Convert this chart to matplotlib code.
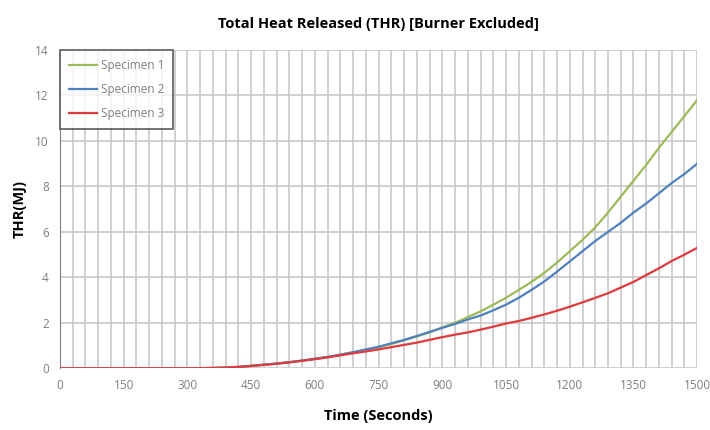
import numpy as np
import matplotlib.pyplot as plt
from matplotlib.ticker import MultipleLocator

# time in seconds, 30 s steps
time = list(range(0, 1530, 30))

# THR (MJ)
spec1 = [0, 0, 0, 0, 0, 0, 0, 0, 0, 0, 0,
         0.005, 0.015, 0.03, 0.06, 0.11, 0.16, 0.21, 0.27, 0.34, 0.42,
         0.5, 0.6, 0.7, 0.81, 0.92, 1.07, 1.23, 1.4, 1.58, 1.8,
         2.0, 2.25, 2.5, 2.8, 3.1, 3.45, 3.8, 4.2, 4.65, 5.15,
         5.65, 6.2, 6.85, 7.55, 8.25, 8.95, 9.7, 10.4, 11.1, 11.8]
spec2 = [0, 0, 0, 0, 0, 0, 0, 0, 0, 0, 0,
         0.005, 0.015, 0.03, 0.06, 0.11, 0.16, 0.21, 0.27, 0.34, 0.42,
         0.5, 0.6, 0.71, 0.83, 0.95, 1.1, 1.25, 1.42, 1.6, 1.78,
         1.95, 2.15, 2.32, 2.55, 2.8, 3.1, 3.45, 3.82, 4.25, 4.7,
         5.15, 5.6, 6.0, 6.4, 6.85, 7.25, 7.7, 8.15, 8.55, 9.0]
spec3 = [0, 0, 0, 0, 0, 0, 0, 0, 0, 0, 0,
         0.005, 0.015, 0.03, 0.06, 0.1, 0.15, 0.2, 0.26, 0.33, 0.4,
         0.48, 0.57, 0.66, 0.74, 0.83, 0.93, 1.03, 1.13, 1.25, 1.37,
         1.48, 1.58, 1.7, 1.83, 1.97, 2.08, 2.22, 2.37, 2.53, 2.71,
         2.9, 3.1, 3.3, 3.55, 3.8, 4.1, 4.4, 4.72, 5.0, 5.3]

labels = ['Specimen 1', 'Specimen 2', 'Specimen 3']
colors = ['#9BBB59', '#4F81BD', '#E03A3E']

plt.rcParams['font.family'] = ['Open Sans', 'DejaVu Sans']

fig = plt.figure(figsize=(7.1, 4.3), dpi=100)
ax = fig.add_axes([0.0845, 0.1435, 0.8975, 0.7402])

for y, lab, c in zip([spec1, spec2, spec3], labels, colors):
    ax.plot(time, y, color=c, lw=1.6, label=lab, zorder=3)

ax.set_xlim(0, 1500)
ax.set_ylim(0, 14)
ax.xaxis.set_major_locator(MultipleLocator(150))
ax.xaxis.set_minor_locator(MultipleLocator(30))
ax.yaxis.set_major_locator(MultipleLocator(2))
ax.grid(True, which='both', axis='x', color='#C8C8C8', lw=1.2)
ax.grid(True, which='major', axis='y', color='#C8C8C8', lw=1.2)
ax.set_axisbelow(True)

for s in ['top', 'right', 'bottom']:
    ax.spines[s].set_visible(False)
ax.spines['left'].set_color('#808080')
ax.tick_params(which='both', length=0, colors='#7F7F7F', labelsize=8.5)
ax.tick_params(axis='x', pad=8)
ax.tick_params(axis='y', pad=8)

ax.set_title('Total Heat Released (THR) [Burner Excluded]', fontsize=10.5,
             fontweight='bold', pad=16)
ax.set_xlabel('Time (Seconds)', fontsize=10.5, fontweight='bold', labelpad=12)
ax.set_ylabel('THR(MJ)', fontsize=10.5, fontweight='bold', labelpad=6)

leg = ax.legend(loc='upper left', bbox_to_anchor=(0, 1), borderaxespad=0,
                fontsize=8.5, fancybox=False, edgecolor='#333333',
                handlelength=2.4, handletextpad=0.3, labelspacing=0.95,
                borderpad=0.75)
leg.get_frame().set_linewidth(1.2)
for t in leg.get_texts():
    t.set_color('#7F7F7F')

fig.savefig('out.png', dpi=100)
